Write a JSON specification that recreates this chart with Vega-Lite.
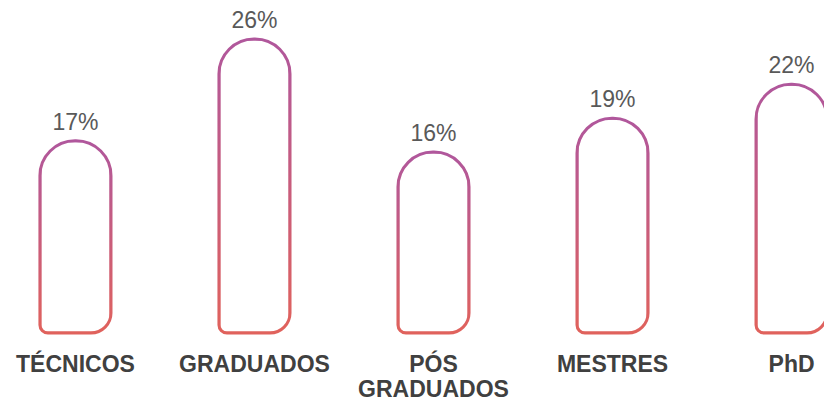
{
  "$schema": "https://vega.github.io/schema/vega-lite/v6.json",
  "width": 867,
  "height": 294,
  "autosize": {"type": "none"},
  "padding": {"left": 0, "top": 39, "right": 0, "bottom": 71},
  "background": "white",
  "config": {"view": {"stroke": null}},
  "data": {
    "values": [
      {"cat": "TÉCNICOS", "v": 0.17},
      {"cat": "GRADUADOS", "v": 0.26},
      {"cat": "PÓS GRADUADOS", "v": 0.16},
      {"cat": "MESTRES", "v": 0.19},
      {"cat": "PhD", "v": 0.22}
    ]
  },
  "encoding": {
    "x": {
      "field": "cat",
      "type": "nominal",
      "sort": null,
      "scale": {"paddingInner": 0.603, "paddingOuter": 0.223},
      "axis": {
        "title": null,
        "ticks": false,
        "domain": false,
        "grid": false,
        "labelAngle": 0,
        "labelFont": "Liberation Sans",
        "labelFontWeight": "bold",
        "labelFontSize": 23,
        "labelColor": "#404040",
        "labelPadding": 20,
        "labelBaseline": "top",
        "labelLineHeight": 25,
        "labelLimit": 0,
        "labelExpr": "datum.value == 'PÓS GRADUADOS' ? ['PÓS', 'GRADUADOS'] : datum.value"
      }
    },
    "y": {
      "field": "v",
      "type": "quantitative",
      "scale": {"domain": [0, 0.26], "nice": false, "zero": true},
      "axis": null
    }
  },
  "layer": [
    {
      "mark": {
        "type": "bar",
        "fill": "white",
        "strokeWidth": 3,
        "stroke": {
          "gradient": "linear",
          "x1": 0, "y1": 0, "x2": 0, "y2": 1,
          "stops": [
            {"offset": 0, "color": "#b0579c"},
            {"offset": 1, "color": "#e0625c"}
          ]
        },
        "cornerRadiusTopLeft": 35,
        "cornerRadiusTopRight": 35,
        "cornerRadiusBottomLeft": 8,
        "cornerRadiusBottomRight": 20
      }
    },
    {
      "mark": {
        "type": "text",
        "baseline": "alphabetic",
        "dy": -11,
        "font": "Liberation Sans",
        "fontSize": 23,
        "color": "#595959"
      },
      "encoding": {
        "text": {"field": "v", "type": "quantitative", "format": ".0%"}
      }
    }
  ]
}
